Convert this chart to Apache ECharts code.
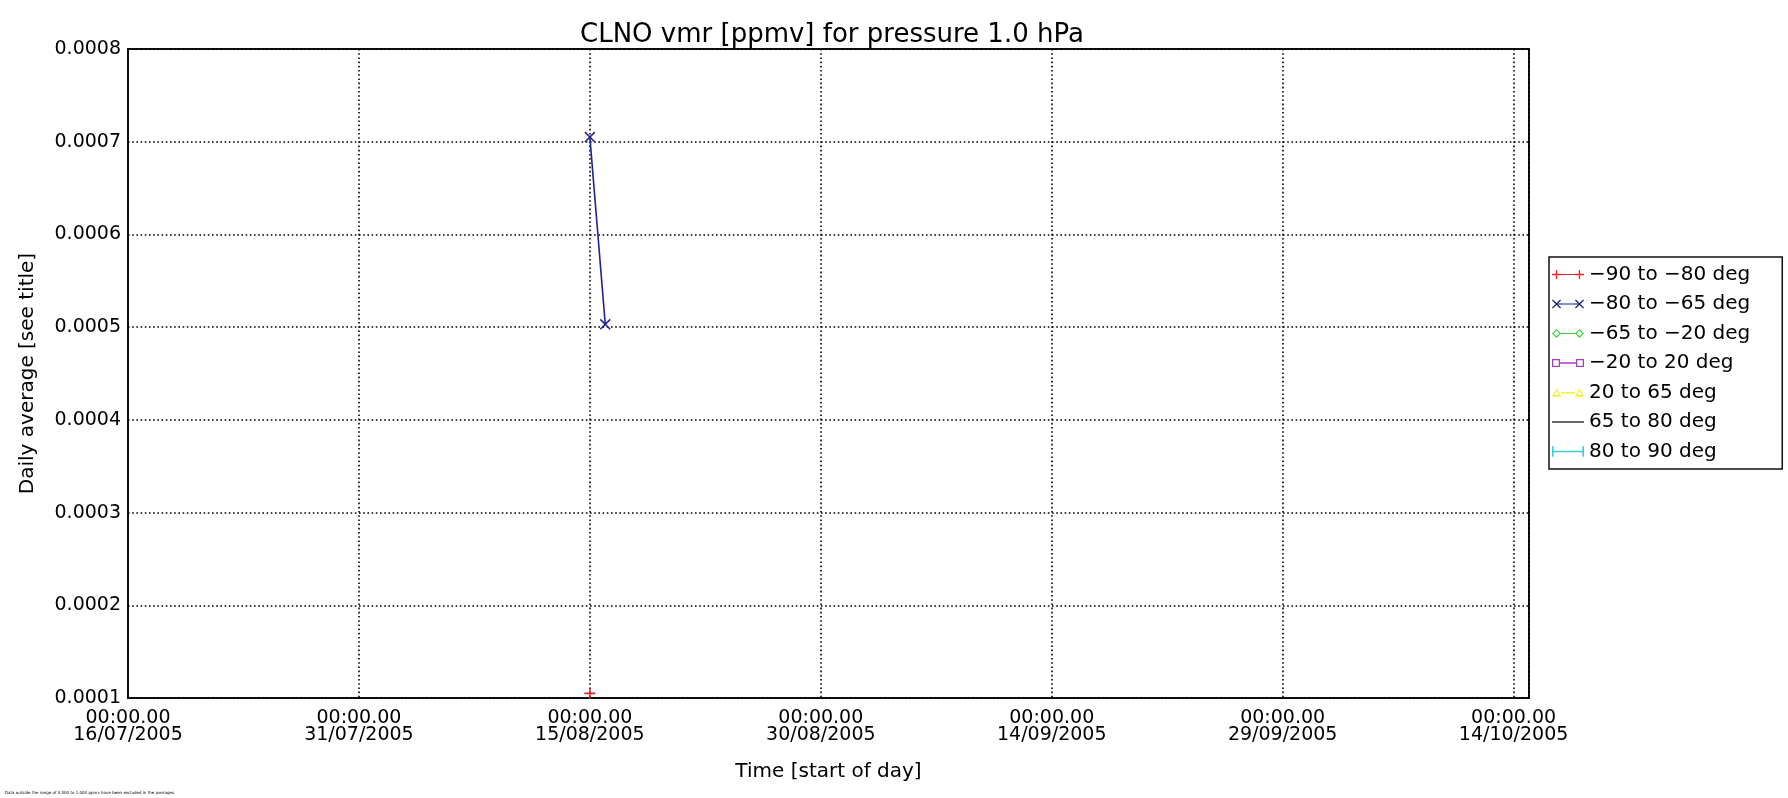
<!DOCTYPE html>
<html><head><meta charset="utf-8">
<script src="https://cdn.jsdelivr.net/npm/echarts@6/dist/echarts.min.js"></script>
<style>html,body{margin:0;padding:0;background:#fff}#c{width:1788px;height:798px}</style>
</head><body><div id="c"></div>
<script>
// ---------------- data ----------------
const titleText = 'CLNO vmr [ppmv] for pressure 1.0 hPa';
const footnoteText = 'Data outside the range of 0.000 to 1.000 ppmv have been excluded in the averages.';
const xAxisName = 'Time [start of day]';
const yAxisName = 'Daily average [see title]';
const axisStartDate = '2005-07-16';
const axisEndDate = '2005-10-15';
const xTickStepDays = 15;
const yMin = 0.0001;
const yMax = 0.0008;
const yStep = 0.0001;

const seriesNames = ['−90 to −80 deg', '−80 to −65 deg', '−65 to −20 deg', '−20 to 20 deg', '20 to 65 deg', '65 to 80 deg', '80 to 90 deg'];
const seriesColors = ['#e3262e', '#23238f', '#36cc36', '#a040c4', '#eeee10', '#000000', '#3ccfd2'];

const s90to80Dates = ['2005-08-15'];
const s90to80Values = [0.000105];
const s80to65Dates = ['2005-08-15', '2005-08-16'];
const s80to65Values = [0.000705, 0.000503];
const s65to20Dates = [];
const s65to20Values = [];
const s20to20Dates = [];
const s20to20Values = [];
const n20to65Dates = [];
const n20to65Values = [];
const n65to80Dates = [];
const n65to80Values = [];
const n80to90Dates = [];
const n80to90Values = [];

// ---------------- helpers ----------------
const DAY = 86400000;
const t0 = Date.parse(axisStartDate + 'T00:00:00Z');
const dayOffset = s => (Date.parse(s + 'T00:00:00Z') - t0) / DAY;
const xMaxDays = dayOffset(axisEndDate);
const pairs = (dates, vals) => dates.map((d, i) => [dayOffset(d), vals[i]]);
const pad2 = n => (n < 10 ? '0' : '') + n;

// marker path builders (styling only)
const f = v => (+v.toFixed(3));
const rect = (x0, y0, x1, y1) => `M${f(x0)} ${f(y0)}H${f(x1)}V${f(y1)}H${f(x0)}Z`;
const rectCCW = (x0, y0, x1, y1) => `M${f(x0)} ${f(y0)}V${f(y1)}H${f(x1)}V${f(y0)}Z`;
const plus = (cx, cy, r, t) => rect(cx - r, cy - t / 2, cx + r, cy + t / 2) + rect(cx - t / 2, cy - r, cx + t / 2, cy + r);
const xm = (cx, cy, r, t) => {
  const a = t * 0.7;
  return `M${f(cx - r)} ${f(cy - r + a)}L${f(cx - r + a)} ${f(cy - r)}L${f(cx + r)} ${f(cy + r - a)}L${f(cx + r - a)} ${f(cy + r)}Z` +
         `M${f(cx + r - a)} ${f(cy - r)}L${f(cx + r)} ${f(cy - r + a)}L${f(cx - r + a)} ${f(cy + r)}L${f(cx - r)} ${f(cy + r - a)}Z`;
};
const diamond = (cx, cy, r, t) => {
  const ri = r - t * 1.414;
  return `M${f(cx)} ${f(cy - r)}L${f(cx + r)} ${f(cy)}L${f(cx)} ${f(cy + r)}L${f(cx - r)} ${f(cy)}Z` +
         `M${f(cx)} ${f(cy - ri)}L${f(cx - ri)} ${f(cy)}L${f(cx)} ${f(cy + ri)}L${f(cx + ri)} ${f(cy)}Z`;
};
const square = (cx, cy, r, t) => rect(cx - r, cy - r, cx + r, cy + r) + rectCCW(cx - r + t, cy - r + t, cx + r - t, cy + r - t);
const tri = (cx, cy, r, t) => {
  const ri = r - t * 1.8;
  return `M${f(cx)} ${f(cy - r)}L${f(cx + r)} ${f(cy + r * 0.8)}L${f(cx - r)} ${f(cy + r * 0.8)}Z` +
         `M${f(cx)} ${f(cy - ri)}L${f(cx - ri)} ${f(cy + ri * 0.8)}L${f(cx + ri)} ${f(cy + ri * 0.8)}Z`;
};

const IW = 32, IH = 11, CY = 5.5, R = 4.5, TH = 1.3;
const c1 = 4.5, c2 = IW - 4.5;
const hline = (x0, x1) => rect(x0, CY - 0.6, x1, CY + 0.6);
const legendIcons = [
  'path://' + hline(0, IW) + plus(c1, CY, R, TH) + plus(c2, CY, R, TH),
  'path://' + hline(c1, c2) + xm(c1, CY, R, TH) + xm(c2, CY, R, TH),
  'path://' + hline(c1 + R, c2 - R) + diamond(c1, CY, R, 1.1) + diamond(c2, CY, R, 1.1),
  'path://' + hline(c1 + 3.8, c2 - 3.8) + square(c1, CY, 3.8, 1.2) + square(c2, CY, 3.8, 1.2),
  'path://' + hline(c1 + R, c2 - R) + tri(c1, CY, R, 1.1) + tri(c2, CY, R, 1.1),
  'path://' + hline(0, IW),
  'path://' + hline(c1, c2) + rect(c1 - 0.6, CY - 4, c1 + 0.6, CY + 4) + rect(c2 - 0.6, CY - 4, c2 + 0.6, CY + 4)
];
const plusSym = 'path://' + plus(5, 5, 5, 1.4);
const xSym = 'path://' + xm(5, 5, 5, 1.4);

const seriesData = [
  pairs(s90to80Dates, s90to80Values),
  pairs(s80to65Dates, s80to65Values),
  pairs(s65to20Dates, s65to20Values),
  pairs(s20to20Dates, s20to20Values),
  pairs(n20to65Dates, n20to65Values),
  pairs(n65to80Dates, n65to80Values),
  pairs(n80to90Dates, n80to90Values)
];
const seriesSymbols = [plusSym, xSym, 'emptyDiamond', 'emptyRect', 'emptyTriangle', 'none', 'none'];

const FONT = 'DejaVu Sans';
const dotted = { color: '#000', type: [1.6, 2.6], width: 1.6 };

const chart = echarts.init(document.getElementById('c'), null, { renderer: 'canvas' });
chart.setOption({
  animation: false,
  backgroundColor: '#fff',
  title: [
    { text: titleText, left: 575, top: 17, textStyle: { fontFamily: FONT, fontSize: 26, fontWeight: 'normal', color: '#000' } },
    { text: footnoteText, left: 0, top: 786, textStyle: { fontFamily: FONT, fontSize: 4, fontWeight: 'normal', color: '#000' } }
  ],
  grid: { left: 128, right: 259, top: 49, bottom: 100, show: true, borderColor: '#111', borderWidth: 2, backgroundColor: 'transparent' },
  xAxis: {
    type: 'value', min: 0, max: xMaxDays, interval: xTickStepDays,
    name: xAxisName, nameLocation: 'middle', nameGap: 64,
    nameTextStyle: { fontFamily: FONT, fontSize: 20, color: '#000' },
    axisLine: { show: false }, axisTick: { show: false },
    axisLabel: {
      margin: 12, fontFamily: FONT, fontSize: 19, lineHeight: 17, color: '#000', showMaxLabel: false,
      formatter: v => {
        if (Math.abs(v % xTickStepDays) > 1e-9) return '';
        const d = new Date(t0 + v * DAY);
        return '00:00.00\n' + pad2(d.getUTCDate()) + '/' + pad2(d.getUTCMonth() + 1) + '/' + d.getUTCFullYear();
      }
    },
    splitLine: { show: true, lineStyle: dotted }
  },
  yAxis: {
    type: 'value', min: yMin, max: yMax, interval: yStep,
    name: yAxisName, nameLocation: 'middle', nameGap: 90,
    nameTextStyle: { fontFamily: FONT, fontSize: 20, color: '#000' },
    axisLine: { show: false }, axisTick: { show: false },
    axisLabel: { margin: 7, fontFamily: FONT, fontSize: 19, color: '#000', formatter: v => v.toFixed(4) },
    splitLine: { show: true, lineStyle: dotted }
  },
  legend: {
    orient: 'vertical', left: 1549, top: 257,
    padding: [7.5, 32, 7.5, 3], itemGap: 9.5,
    itemWidth: IW, itemHeight: IH, symbolKeepAspect: true,
    borderColor: '#111', borderWidth: 1.5, backgroundColor: '#fff',
    itemStyle: { borderWidth: 0 },
    textStyle: { fontFamily: FONT, fontSize: 20, color: '#000' },
    data: seriesNames.map((n, i) => ({ name: n, icon: legendIcons[i] }))
  },
  series: seriesNames.map((n, i) => ({
    name: n, type: 'line', data: seriesData[i],
    color: seriesColors[i],
    symbol: seriesSymbols[i], symbolSize: 11, showSymbol: true,
    itemStyle: { borderWidth: 0 },
    lineStyle: { width: 1.6, color: seriesColors[i] },
    emphasis: { disabled: true }
  }))
});
</script>
</body></html>
